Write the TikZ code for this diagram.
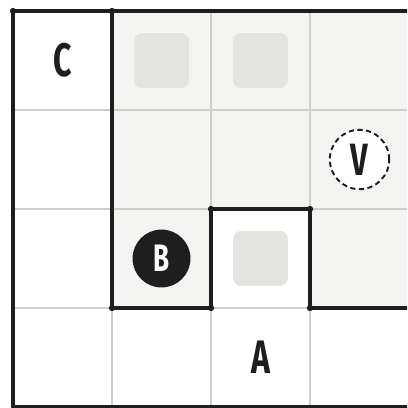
\documentclass[tikz,border=0pt]{standalone}
\usepackage{fontspec}
\usepackage{xcolor}
\newfontfamily\lblfont[FakeStretch=0.68]{Fira Sans}
\usetikzlibrary{positioning}

\definecolor{ink}{HTML}{1E1E1E}
\definecolor{floorgray}{HTML}{F3F3F1}
\definecolor{tile}{HTML}{E3E4E0}
\definecolor{gridline}{HTML}{CFCFCA}

\begin{document}
\begin{tikzpicture}[
  x=2cm, y=2cm,
  wall/.style={line width=2.3pt, ink, line join=round},
  corner/.style={circle, fill=ink, inner sep=0pt, minimum size=3.6pt},
  tilebox/.style={fill=tile, rounded corners=4.6pt, minimum size=1.11cm, inner sep=0pt},
  letter/.style={text=ink, font=\lblfont\bfseries\fontsize{27}{27}\selectfont},
  token/.style={circle, fill=ink, minimum size=1.17cm, inner sep=0pt,
                text=white, font=\lblfont\bfseries\fontsize{22}{22}\selectfont},
  ghost/.style={circle, draw=ink, dashed, dash pattern=on 3pt off 2pt, line width=1.1pt,
                fill=white, minimum size=1.2cm, inner sep=0pt,
                text=ink, font=\lblfont\bfseries\fontsize{26}{26}\selectfont}
]
  \clip (-0.1313,0.1111) rectangle (3.9798,-4.0101);
  \fill[white] (-0.1313,0.1111) rectangle (3.9798,-4.0101);

  % shaded floor
  \fill[floorgray] (1,0) -- (4,0) -- (4,-3) -- (3,-3) -- (3,-2) -- (2,-2) -- (2,-3) -- (1,-3) -- cycle;
  \draw[gridline, line width=0.6pt, step=2cm] (0,-4) grid (4,0);

  % tiles
  \node[tilebox] (t1) at (1.5,-0.5) {};
  \node[tilebox] (t2) at (2.5,-0.5) {};
  \node[tilebox] (t3) at (2.5,-2.5) {};

  % walls
  \draw[wall] (4,0) -- (0,0) -- (0,-4) -- (4,-4);
  \draw[wall] (1,0) -- (1,-3) -- (2,-3) -- (2,-2) -- (3,-2) -- (3,-3) -- (4,-3);
  \foreach \p in {(0,0),(1,0),(1,-3),(2,-3),(2,-2),(3,-2),(3,-3)}
    \node[corner] at \p {};

  % labels
  \node[letter] (c) at (0.5,-0.5) {C};
  \node[letter] (a) at (2.5,-3.5) {A};
  \node[token]  (b) at (1.5,-2.5) {B};
  \node[ghost]  (v) at (3.5,-1.5) {V};
\end{tikzpicture}
\end{document}
